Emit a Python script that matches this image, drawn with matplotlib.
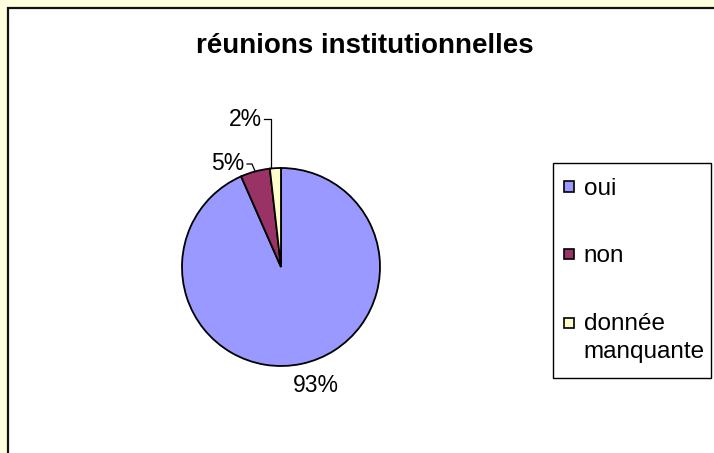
import numpy as np
import matplotlib
matplotlib.use("Agg")
import matplotlib.pyplot as plt
from matplotlib.patches import Rectangle, Patch
from matplotlib.legend_handler import HandlerPatch

plt.rcParams['font.family'] = ['Liberation Sans', 'DejaVu Sans']

title = "réunions institutionnelles"
categories = ["oui", "non", "donnée\nmanquante"]
values = [93.4, 4.8, 1.8]
pct_labels = ["93%", "5%", "2%"]
colors = ["#9999FF", "#993366", "#FFFFCC"]

W, H = 714, 453
fig = plt.figure(figsize=(W / 100, H / 100), dpi=100)
fig.patch.set_facecolor("#FFFFDD")

def fp(px, py):
    return px / W, 1 - py / H

# white chart area with black border (top/left visible) and a faint shadow
fig.patches.append(Rectangle(fp(9, 2000), 2.0, (2000 - 10) / H,
                             transform=fig.transFigure, facecolor="none",
                             edgecolor="#888888", linewidth=1.0, zorder=-6))
fig.patches.append(Rectangle(fp(8, 2000), 2.0, (2000 - 8) / H,
                             transform=fig.transFigure, facecolor="white",
                             edgecolor="#111111", linewidth=1.6, zorder=-5))

fig.text(365 / W, 1 - 46 / H, title, ha="center", va="center",
         fontsize=20, fontweight="bold")

cx, cy, r = 281, 267, 99
ax = fig.add_axes([(cx - r) / W, (H - cy - r) / H, 2 * r / W, 2 * r / H])
ax.set_zorder(2)
ax.patch.set_visible(False)

wedges, _ = ax.pie(values, colors=colors, startangle=90, counterclock=False,
                   wedgeprops=dict(edgecolor="black", linewidth=1.3))
ax.set_xlim(-1, 1)
ax.set_ylim(-1, 1)
ax.set_aspect("equal")
ax.axis("off")

def d(px, py):
    return (px - cx) / r, (cy - py) / r

fs = 16.5
# 93%
x, y = d(316, 386)
ax.text(x, y, pct_labels[0], ha="center", va="center", fontsize=fs, clip_on=False)

# 5% with leader
w = wedges[1]
mid = np.deg2rad((w.theta1 + w.theta2) / 2)
ex, ey = np.cos(mid), np.sin(mid)
x, y = d(244, 163)
ax.text(x, y, pct_labels[1], ha="right", va="center", fontsize=fs, clip_on=False)
x1, y1 = d(247, 164)
x2, _ = d(252, 164)
ax.plot([x1, x2, ex], [y1, y1, ey], color="black", lw=0.9, clip_on=False)

# 2% with leader
x, y = d(262, 119)
ax.text(x, y, pct_labels[2], ha="right", va="center", fontsize=fs, clip_on=False)
x1, y1 = d(264, 119)
x2, y2 = d(271, 168)
ax.plot([x1, x2, x2], [y1, y1, y2], color="black", lw=0.9, clip_on=False)

# legend frame
x0, y0 = fp(553, 378)
x1f, y1f = fp(711, 163)
fig.patches.append(Rectangle((x0, y0), x1f - x0, y1f - y0, transform=fig.transFigure,
                             facecolor="white", edgecolor="black", linewidth=1.0, zorder=1))

lfs = 17.5
def square(legend, orig_handle, xdescent, ydescent, width, height, fontsize):
    s = 0.42 * fontsize
    shift = getattr(orig_handle, "_shift", 0.0) * fontsize
    return Rectangle((-xdescent, -ydescent + (height - s) / 2 + shift), s, s)

handles = []
for c, lab in zip(colors, categories):
    p = Patch(facecolor=c, edgecolor="black", linewidth=1.2)
    p._shift = 0.62 if "\n" in lab else 0.0
    handles.append(p)
leg = fig.legend(handles, categories, loc="upper left",
                 bbox_to_anchor=fp(553, 167), bbox_transform=fig.transFigure,
                 fontsize=lfs, frameon=False,
                 handlelength=0.42, handleheight=0.7, handletextpad=0.4,
                 borderpad=0.45, labelspacing=1.87, borderaxespad=0,
                 handler_map={Patch: HandlerPatch(patch_func=square)})
for t in leg.get_texts():
    t.set_linespacing(1.35)
leg.set_zorder(3)

fig.savefig("out.png", dpi=100, facecolor=fig.get_facecolor())
